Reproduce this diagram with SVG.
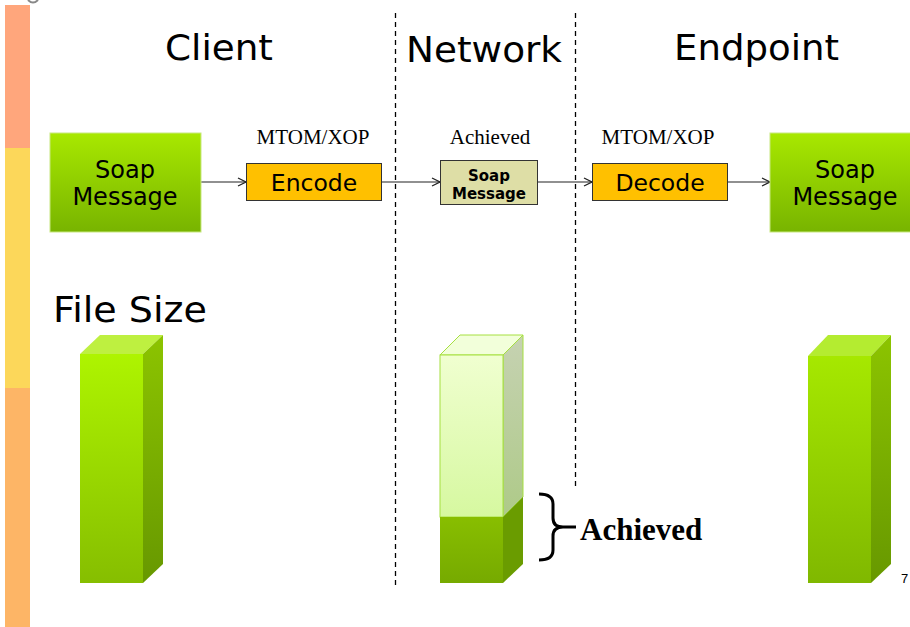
<svg xmlns="http://www.w3.org/2000/svg" width="910" height="627" viewBox="0 0 910 627">
  <defs>
    <linearGradient id="gMsg" x1="0" y1="0" x2="0" y2="1">
      <stop offset="0" stop-color="#A8E800"/>
      <stop offset="1" stop-color="#78B400"/>
    </linearGradient>
    <linearGradient id="gFront" x1="0" y1="0" x2="0" y2="1">
      <stop offset="0" stop-color="#AEF400"/>
      <stop offset="1" stop-color="#86BE00"/>
    </linearGradient>
    <linearGradient id="gFrontR" x1="0" y1="0" x2="0" y2="1">
      <stop offset="0" stop-color="#A6E800"/>
      <stop offset="1" stop-color="#80B800"/>
    </linearGradient>
    <linearGradient id="gSide" x1="0" y1="0" x2="0" y2="1">
      <stop offset="0" stop-color="#8CC400"/>
      <stop offset="1" stop-color="#679800"/>
    </linearGradient>
    <linearGradient id="gLight" x1="0" y1="0" x2="0" y2="1">
      <stop offset="0" stop-color="#F0FFD0"/>
      <stop offset="1" stop-color="#D6F8A0"/>
    </linearGradient>
    <linearGradient id="gLightSide" x1="0" y1="0" x2="0" y2="1">
      <stop offset="0" stop-color="#C6D2B2"/>
      <stop offset="1" stop-color="#AECA88"/>
    </linearGradient>
    <linearGradient id="gLow" x1="0" y1="0" x2="0" y2="1">
      <stop offset="0" stop-color="#88BE00"/>
      <stop offset="1" stop-color="#76AA00"/>
    </linearGradient>
    <marker id="arrow" viewBox="0 0 10 10" refX="9" refY="5" markerWidth="10" markerHeight="10" markerUnits="userSpaceOnUse" orient="auto">
      <path d="M1,1 L9,5 L1,9" fill="none" stroke="#222" stroke-width="1.3"/>
    </marker>
    <style>
      .title { font-family: "DejaVu Sans", Verdana, sans-serif; font-size: 36px; fill: #000; }
      .msg { font-family: "DejaVu Sans", Verdana, sans-serif; font-size: 24px; fill: #000; text-anchor: middle; }
      .step { font-family: "DejaVu Sans", Verdana, sans-serif; font-size: 23.5px; fill: #000; text-anchor: middle; }
      .label { font-family: "Liberation Serif", "Times New Roman", serif; font-size: 21px; fill: #000; text-anchor: middle; }
      .small { font-family: "DejaVu Sans", Verdana, sans-serif; font-size: 15px; font-weight: bold; fill: #000; text-anchor: middle; }
      .box { fill: #FFC000; stroke: #333; stroke-width: 1; }
      .conn { stroke: #222; stroke-width: 1.2; fill: none; marker-end: url(#arrow); }
      .divider { stroke: #000; stroke-width: 1.3; stroke-dasharray: 5 4; fill: none; }
    </style>
  </defs>

  <!-- side band -->
  <g id="side-band">
    <rect x="5" y="5" width="25" height="143" fill="#FFA67C"/>
    <rect x="5" y="148" width="25" height="240" fill="#FCD75A"/>
    <rect x="5" y="388" width="25" height="239" fill="#FDB566"/>
    <path d="M28,0 Q33,5 38,0" fill="none" stroke="#888" stroke-width="2"/>
  </g>

  <!-- section dividers -->
  <g id="dividers">
    <line class="divider" x1="395.5" y1="13" x2="395.5" y2="588"/>
    <line class="divider" x1="575.5" y1="13" x2="575.5" y2="486"/>
  </g>

  <!-- section headings -->
  <g id="headings">
    <text class="title" x="165" y="60" textLength="108" lengthAdjust="spacingAndGlyphs">Client</text>
    <text class="title" x="406" y="62" textLength="156" lengthAdjust="spacingAndGlyphs">Network</text>
    <text class="title" x="674" y="60" textLength="165" lengthAdjust="spacingAndGlyphs">Endpoint</text>
    <text class="title" x="53" y="322" textLength="154" lengthAdjust="spacingAndGlyphs">File Size</text>
  </g>

  <!-- connectors -->
  <g id="connectors">
    <line class="conn" x1="201" y1="182" x2="246" y2="182"/>
    <line class="conn" x1="381" y1="182" x2="440" y2="182"/>
    <line class="conn" x1="537" y1="182" x2="592" y2="182"/>
    <line class="conn" x1="727" y1="182" x2="770" y2="182"/>
  </g>

  <g id="client-message">
    <rect x="50" y="133" width="151" height="99" fill="url(#gMsg)" stroke="#C8E880" stroke-width="1"/>
    <text class="msg" x="125" y="178">Soap</text>
    <text class="msg" x="125" y="205">Message</text>
  </g>

  <g id="encode">
    <text class="label" x="313" y="144">MTOM/XOP</text>
    <rect class="box" x="246.5" y="163.5" width="135" height="37"/>
    <text class="step" x="314" y="191">Encode</text>
  </g>

  <g id="network-message">
    <text class="label" x="490" y="144">Achieved</text>
    <rect x="440.5" y="160.5" width="97" height="44" fill="#DEDEA6" stroke="#333" stroke-width="1"/>
    <text class="small" x="489" y="181">Soap</text>
    <text class="small" x="489" y="199">Message</text>
  </g>

  <g id="decode">
    <text class="label" x="658" y="144">MTOM/XOP</text>
    <rect class="box" x="592.5" y="163.5" width="135" height="37"/>
    <text class="step" x="660" y="191">Decode</text>
  </g>

  <g id="endpoint-message">
    <rect x="770" y="133" width="145" height="99" fill="url(#gMsg)" stroke="#C8E880" stroke-width="1"/>
    <text class="msg" x="845" y="178">Soap</text>
    <text class="msg" x="845" y="205">Message</text>
  </g>

  <!-- size bars -->
  <g id="client-bar">
    <polygon points="80,354 100,335 163,335 143,354" fill="#BEF040"/>
    <polygon points="143,354 163,335 163,564 143,583" fill="url(#gSide)"/>
    <rect x="80" y="354" width="63" height="229" fill="url(#gFront)"/>
  </g>

  <g id="network-bar">
    <polygon points="440,355 460,335 523,335 503,355" fill="#F2FFDA" stroke="#A6E040" stroke-width="1"/>
    <polygon points="503,355 523,335 523,497 503,517" fill="url(#gLightSide)" stroke="#A6E040" stroke-width="1"/>
    <rect x="440" y="355" width="63" height="162" fill="url(#gLight)" stroke="#A6E040" stroke-width="1"/>
    <polygon points="503,517 523,497 523,564 503,583" fill="#6A9C00"/>
    <rect x="440" y="517" width="63" height="66" fill="url(#gLow)"/>
  </g>

  <g id="endpoint-bar">
    <polygon points="808,356 828,335 891,335 871,356" fill="#B4EC30"/>
    <polygon points="871,356 891,335 891,564 871,583" fill="url(#gSide)"/>
    <rect x="808" y="356" width="63" height="227" fill="url(#gFrontR)"/>
  </g>

  <!-- reduction brace -->
  <g id="achieved-brace">
    <path d="M539,494 Q553,494 553,504 L553,518 Q553,527 563,527 Q553,527 553,536 L553,550 Q553,560 539,560 M563,527 L576,527" fill="none" stroke="#000" stroke-width="3"/>
    <text x="580" y="540" font-family="Liberation Serif, 'Times New Roman', serif" font-size="31" font-weight="bold" fill="#000">Achieved</text>
  </g>

  <text x="901" y="583" font-family="Liberation Sans, Arial, sans-serif" font-size="13" fill="#000">7</text>
</svg>
